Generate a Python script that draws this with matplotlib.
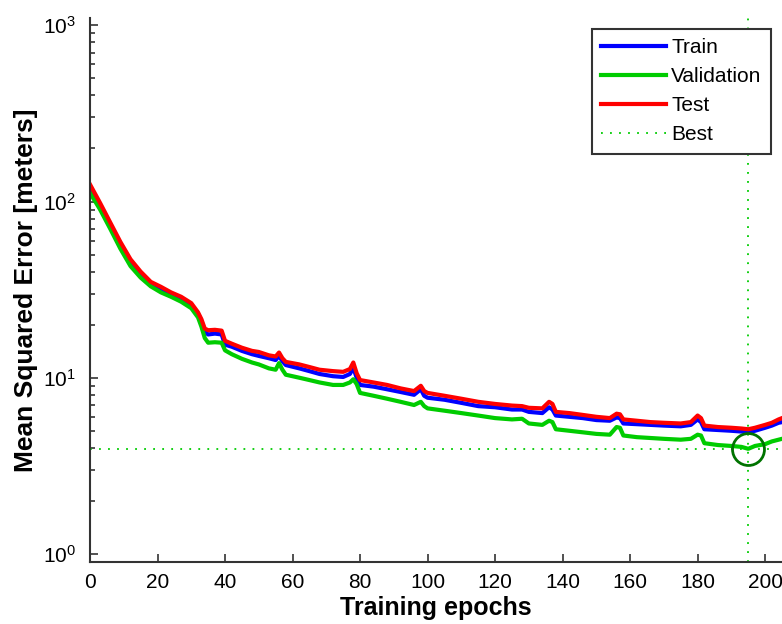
import matplotlib
matplotlib.use("Agg")
import matplotlib.pyplot as plt
from matplotlib.lines import Line2D

# performance curves
epochs = [0, 3, 6, 9, 12, 15, 18, 21, 24, 27, 30, 32, 33, 34, 35, 37, 39, 40, 42, 45,
          48, 50, 53, 55, 56, 57, 58, 62, 65, 68, 72, 75, 77, 78, 79, 80, 84, 88, 92, 96,
          98, 99, 100, 105, 110, 115, 120, 125, 128, 130, 134, 136, 137, 138, 142, 146, 150, 154, 156, 157,
          158, 162, 166, 170, 175, 178, 180, 181, 182, 186, 190, 193, 195, 197, 200, 202, 204, 205]
train = [120, 94, 73, 57, 46, 39, 34, 32, 30, 28.3, 26, 23, 21, 18.2, 17.6, 17.8, 17.6, 15.4, 15.0, 14.2,
         13.6, 13.3, 12.9, 12.6, 13.3, 12.4, 11.8, 11.3, 10.9, 10.5, 10.2, 10.1, 10.5, 11.4, 10.0, 9.1, 8.9, 8.6, 8.3, 8.0,
         8.6, 7.9, 7.7, 7.5, 7.2, 6.9, 6.8, 6.6, 6.6, 6.4, 6.3, 6.8, 6.6, 6.1, 6.0, 5.9, 5.75, 5.7, 5.95, 5.9,
         5.5, 5.45, 5.4, 5.35, 5.3, 5.4, 5.8, 5.6, 5.1, 5.05, 5.0, 4.95, 4.9, 5.0, 5.2, 5.35, 5.55, 5.6]
val = [112, 90, 70, 54, 43, 37, 33, 30.5, 28.8, 27, 24.8, 22, 19.5, 16.8, 15.8, 15.9, 15.8, 14.3, 13.6, 12.8,
       12.2, 11.9, 11.3, 11.1, 12.1, 11.1, 10.4, 10.0, 9.7, 9.4, 9.1, 9.1, 9.4, 9.8, 9.2, 8.2, 7.9, 7.6, 7.3, 7.0,
       7.3, 6.9, 6.7, 6.5, 6.3, 6.1, 5.9, 5.8, 5.85, 5.5, 5.4, 5.7, 5.6, 5.1, 5.0, 4.9, 4.8, 4.75, 5.25, 5.2,
       4.7, 4.6, 4.55, 4.5, 4.45, 4.5, 4.75, 4.7, 4.25, 4.15, 4.1, 4.05, 3.95, 4.1, 4.2, 4.35, 4.45, 4.5]
test = [125, 98, 76, 59, 47, 40, 35, 32.8, 30.5, 28.8, 26.5, 23.5, 21.5, 19, 18.6, 18.7, 18.5, 16.2, 15.6, 14.8,
        14.2, 14.0, 13.4, 13.2, 13.9, 12.9, 12.3, 11.9, 11.5, 11.1, 10.9, 10.8, 11.2, 12.2, 10.6, 9.7, 9.4, 9.1, 8.7, 8.4,
        9.0, 8.4, 8.2, 7.9, 7.6, 7.3, 7.1, 6.95, 6.9, 6.75, 6.7, 7.3, 7.1, 6.4, 6.3, 6.15, 6.0, 5.9, 6.25, 6.2,
        5.8, 5.7, 5.6, 5.55, 5.5, 5.6, 6.1, 5.9, 5.35, 5.25, 5.2, 5.15, 5.1, 5.2, 5.4, 5.55, 5.8, 5.9]
best_epoch = 195
best_val = val[epochs.index(best_epoch)]

plt.rcParams['font.family'] = ['Liberation Sans', 'DejaVu Sans']

fig = plt.figure(figsize=(7.82, 6.24), dpi=100)
ax = fig.add_axes([90 / 782, 1 - 562 / 624, 692 / 782, 544 / 624])

green = (0, 0.8, 0)
ax.semilogy(epochs, train, color=(0, 0, 1), lw=3.0, label='Train')
ax.semilogy(epochs, val, color=green, lw=3.0, label='Validation')
ax.semilogy(epochs, test, color=(1, 0, 0), lw=3.0, label='Test')
ax.axhline(best_val, color=green, lw=1.3, ls=(0, (1, 4)))
ax.axvline(best_epoch, color=green, lw=1.3, ls=(0, (1, 4)))
ax.plot(best_epoch, best_val, 'o', ms=23, mfc='none', mec=(0, 0.45, 0), mew=2)

ax.set_xlim(0, 205)
ax.set_ylim(0.9, 1100)
ax.set_xticks(range(0, 201, 20))
for side in ['top', 'right']:
    ax.spines[side].set_visible(False)
for side in ['left', 'bottom']:
    ax.spines[side].set_linewidth(1.5)
    ax.spines[side].set_color('0.2')
ax.tick_params(which='both', direction='in', colors='0.2', labelcolor='black', labelsize=15)
ax.tick_params(which='major', length=6, width=1.2)
ax.tick_params(which='minor', length=3.5, width=1.2)
ax.tick_params(axis='y', pad=10)
ax.tick_params(axis='x', pad=8)

ax.set_xlabel('Training epochs', fontsize=18, fontweight='bold', labelpad=3)
ax.set_ylabel('Mean Squared Error [meters]', fontsize=19, fontweight='bold', labelpad=4)

handles = [Line2D([], [], color=(0, 0, 1), lw=3.0),
           Line2D([], [], color=green, lw=3.0),
           Line2D([], [], color=(1, 0, 0), lw=3.0),
           Line2D([], [], color=green, lw=1.3, ls=(0, (1, 4)))]
leg = ax.legend(handles, ['Train', 'Validation', 'Test', 'Best'],
                loc='upper right', bbox_to_anchor=(771 / 782, 1 - 29 / 624),
                bbox_transform=fig.transFigure, borderaxespad=0,
                fancybox=False, framealpha=1, edgecolor='0.2',
                handlelength=3.1, handletextpad=0.25, labelspacing=0.48,
                borderpad=0.45, prop={'size': 15})
leg.get_frame().set_linewidth(1.5)

fig.savefig('out.png', dpi=100)
